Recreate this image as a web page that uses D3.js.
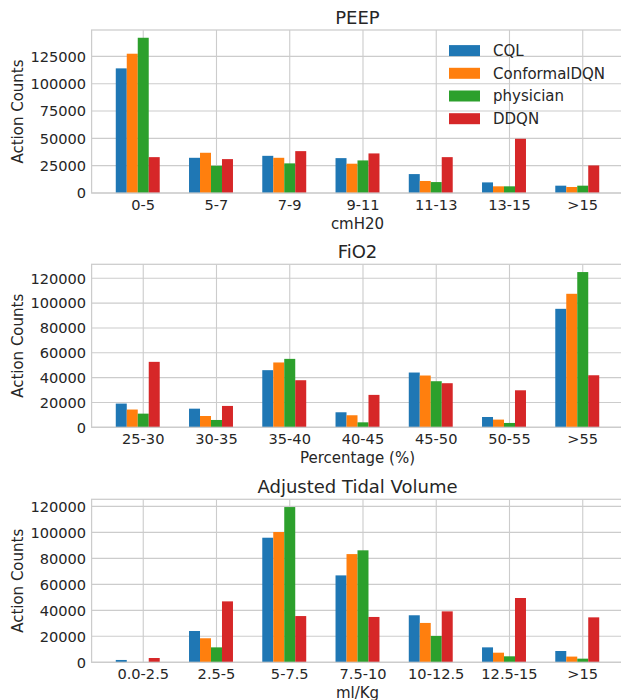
<!DOCTYPE html>
<html>
<head>
<meta charset="utf-8">
<script src="https://cdn.jsdelivr.net/npm/d3@7"></script>
<style>
  body { margin: 0; background: #fff; }
  svg { display: block; font-family: "DejaVu Sans", sans-serif; }
</style>
</head>
<body>
<script>
var series = ["CQL", "ConformalDQN", "physician", "DDQN"];
var colors = ["#1f77b4", "#ff7f0e", "#2ca02c", "#d62728"];

// PEEP
var peepCats = ["0-5", "5-7", "7-9", "9-11", "11-13", "13-15", ">15"];
var peepCQL = [114000, 32200, 34000, 31900, 17300, 9700, 6700];
var peepConformal = [127400, 36800, 32200, 26800, 11000, 6100, 5500];
var peepPhysician = [142000, 24900, 27100, 29800, 10000, 6100, 6700];
var peepDDQN = [32800, 31000, 38300, 36200, 32800, 49600, 25200];
var peepTicks = [0, 25000, 50000, 75000, 100000, 125000];

// FiO2
var fio2Cats = ["25-30", "30-35", "35-40", "40-45", "45-50", "50-55", ">55"];
var fio2CQL = [19100, 15000, 46000, 12100, 44100, 8300, 95400];
var fio2Conformal = [14300, 9100, 52200, 9700, 41700, 6200, 107500];
var fio2Physician = [11000, 5900, 55100, 4000, 37100, 3500, 125000];
var fio2DDQN = [52700, 17200, 37900, 26100, 35500, 29800, 41900];
var fio2Ticks = [0, 20000, 40000, 60000, 80000, 100000, 120000];

// Adjusted Tidal Volume
var tidalCats = ["0.0-2.5", "2.5-5", "5-7.5", "7.5-10", "10-12.5", "12.5-15", ">15"];
var tidalCQL = [1800, 24100, 95900, 66900, 36200, 11500, 8700];
var tidalConformal = [200, 18500, 100300, 83300, 30300, 7400, 4400];
var tidalPhysician = [100, 11500, 119500, 86200, 20300, 4600, 2800];
var tidalDDQN = [3300, 46900, 35600, 34900, 39200, 49500, 34600];
var tidalTicks = [0, 20000, 40000, 60000, 80000, 100000, 120000];

var panels = [
    { title: "PEEP", xlabel: "cmH20", cats: peepCats, values: [peepCQL, peepConformal, peepPhysician, peepDDQN], ticks: peepTicks, top: 30, legend: true },
    { title: "FiO2", xlabel: "Percentage (%)", cats: fio2Cats, values: [fio2CQL, fio2Conformal, fio2Physician, fio2DDQN], ticks: fio2Ticks, top: 264.3 },
    { title: "Adjusted Tidal Volume", xlabel: "ml/Kg", cats: tidalCats, values: [tidalCQL, tidalConformal, tidalPhysician, tidalDDQN], ticks: tidalTicks, top: 499.3 }
];

var width = 621,
    height = 700,
    plotLeft = 91.6,
    plotRight = 623.4,
    plotHeight = 163,
    barWidth = 0.15,
    offsets = [-0.3, -0.15, 0, 0.15],
    textColor = "#262626",
    gridColor = "#cccccc";

var svg = d3.select(document.body).append("svg")
    .attr("width", width)
    .attr("height", height);

panels.forEach(function (p) {
    var bottom = p.top + plotHeight;

    // matplotlib style auto limits: 5% margin on x, 5% headroom on y
    var x = d3.scaleLinear()
        .domain([-0.705, p.cats.length - 1 + 0.555])
        .range([plotLeft, plotRight]);

    var ymax = d3.max(p.values, function (s) { return d3.max(s); }) * 1.05;
    var y = d3.scaleLinear()
        .domain([0, ymax])
        .range([bottom, p.top]);

    var g = svg.append("g");

    // grid
    g.selectAll(".hgrid")
        .data(p.ticks)
        .enter().append("line")
        .attr("x1", plotLeft)
        .attr("x2", plotRight)
        .attr("y1", function (d) { return y(d); })
        .attr("y2", function (d) { return y(d); })
        .attr("style", "stroke: " + gridColor + "; stroke-width: 1.1px;");

    g.selectAll(".vgrid")
        .data(p.cats)
        .enter().append("line")
        .attr("x1", function (d, i) { return x(i); })
        .attr("x2", function (d, i) { return x(i); })
        .attr("y1", p.top)
        .attr("y2", bottom)
        .attr("style", "stroke: " + gridColor + "; stroke-width: 1.1px;");

    // bars
    p.values.forEach(function (vals, j) {
        g.selectAll(".bar" + j)
            .data(vals)
            .enter().append("rect")
            .attr("x", function (d, i) { return x(i + offsets[j] - barWidth / 2); })
            .attr("y", function (d) { return y(d); })
            .attr("width", function (d, i) { return x(i + offsets[j] + barWidth / 2) - x(i + offsets[j] - barWidth / 2); })
            .attr("height", function (d) { return bottom - y(d); })
            .attr("fill", colors[j]);
    });

    // frame
    g.append("rect")
        .attr("x", plotLeft)
        .attr("y", p.top)
        .attr("width", plotRight - plotLeft)
        .attr("height", plotHeight)
        .attr("style", "fill: none; stroke: " + gridColor + "; stroke-width: 1.25px;");

    // y tick labels
    g.selectAll(".ylab")
        .data(p.ticks)
        .enter().append("text")
        .text(function (d) { return d; })
        .attr("x", plotLeft - 5.5)
        .attr("y", function (d) { return y(d); })
        .attr("dy", "0.36em")
        .attr("style", "text-anchor: end; font-size: 14.6px; fill: " + textColor + ";");

    // x tick labels
    g.selectAll(".xlab")
        .data(p.cats)
        .enter().append("text")
        .text(function (d) { return d; })
        .attr("x", function (d, i) { return x(i); })
        .attr("y", bottom + 17)
        .attr("style", "text-anchor: middle; font-size: 14.6px; fill: " + textColor + ";");

    g.append("text")
        .text(p.xlabel)
        .attr("x", (plotLeft + plotRight) / 2)
        .attr("y", bottom + 35.5)
        .attr("style", "text-anchor: middle; font-size: 15px; fill: " + textColor + ";");

    g.append("text")
        .text("Action Counts")
        .attr("transform", "translate(22.5," + (p.top + plotHeight / 2) + ") rotate(-90)")
        .attr("style", "text-anchor: middle; font-size: 15px; fill: " + textColor + ";");

    g.append("text")
        .text(p.title)
        .attr("x", (plotLeft + plotRight) / 2)
        .attr("y", p.top - 6)
        .attr("style", "text-anchor: middle; font-size: 18px; fill: " + textColor + ";");

    if (p.legend) {
        var legend = g.selectAll(".legend")
            .data(series)
            .enter().append("g")
            .attr("transform", function (d, i) { return "translate(449," + (50.6 + i * 22.7) + ")"; });

        legend.append("rect")
            .attr("x", 0)
            .attr("y", -5.5)
            .attr("width", 31)
            .attr("height", 11)
            .attr("fill", function (d, i) { return colors[i]; });

        legend.append("text")
            .text(function (d) { return d; })
            .attr("x", 44)
            .attr("dy", "0.36em")
            .attr("style", "font-size: 15px; fill: " + textColor + ";");
    }
});
</script>
</body>
</html>
